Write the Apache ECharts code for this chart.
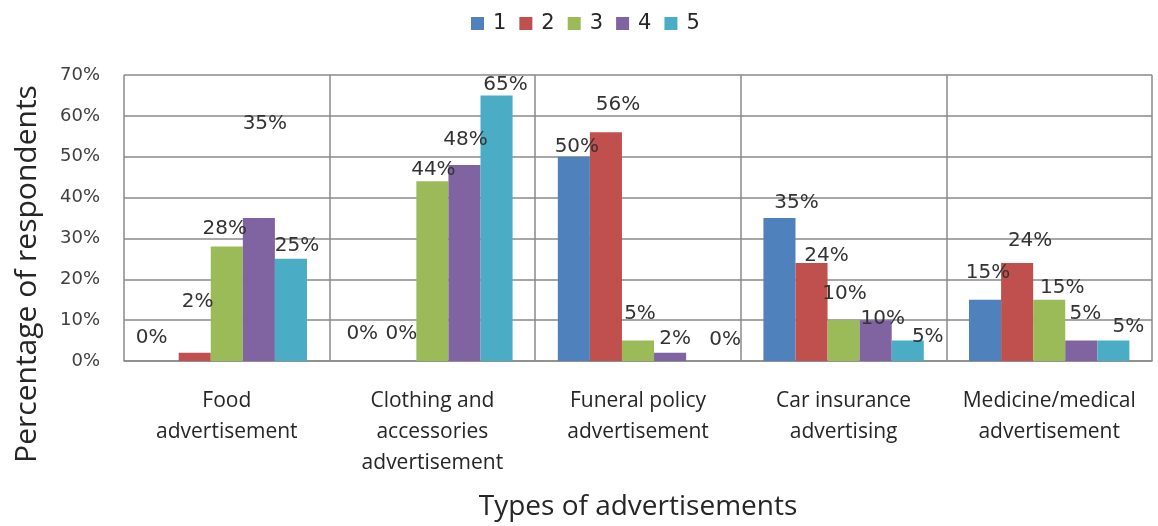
<!DOCTYPE html>
<html>
<head>
<meta charset="utf-8">
<script src="https://cdn.jsdelivr.net/npm/echarts@6/dist/echarts.min.js"></script>
<style>
html,body{margin:0;padding:0;background:#fff;}
#main{width:1158px;height:526px;}
</style>
</head>
<body>
<div id="main"></div>
<script>
const categories = [
  'Food\nadvertisement',
  'Clothing and\naccessories\nadvertisement',
  'Funeral policy\nadvertisement',
  'Car insurance\nadvertising',
  'Medicine/medical\nadvertisement'
];
const seriesNames = ['1', '2', '3', '4', '5'];
const s1 = [0, 0, 50, 35, 15];
const s2 = [2, 0, 56, 24, 24];
const s3 = [28, 44, 5, 10, 15];
const s4 = [35, 48, 2, 10, 5];
const s5 = [25, 65, 0, 5, 5];
const yTicks = { min: 0, max: 70, interval: 10 };
const xTitle = 'Types of advertisements';
const yTitle = 'Percentage of respondents';

// label nudges (styling only), [dx, dy] per series per category
const labelNudges = [
  [[-11,-8],[-6,-12],[3,5],[17,0],[3,-12]],
  [[3,-36],[1,-12],[12,-12],[15,8],[13,-7]],
  [[-2,-3],[1,4],[2,-12],[1,-11],[13,3]],
  [[6,-79],[1,-10],[5,1],[7,14],[4,-12]],
  [[6,2],[9,4],[23,-6],[20,11],[15,1]]
];
const colors = ['#4F81BD', '#C0504D', '#9BBB59', '#8064A2', '#4BACC6'];
const allSeries = [s1, s2, s3, s4, s5];

const chart = echarts.init(document.getElementById('main'), null, { renderer: 'canvas' });
const gridColor = '#8a8a8a';
const option = {
  animation: false,
  color: colors,
  legend: {
    left: 466, top: 8,
    itemWidth: 13, itemHeight: 13, itemGap: 13,
    icon: 'rect',
    textStyle: { fontFamily: 'DejaVu Sans', fontSize: 21, color: '#262626', padding: [0,0,0,4] },
    data: seriesNames
  },
  grid: { left: 124, right: 6, top: 75, bottom: 159, containLabel: false },
  xAxis: {
    type: 'category',
    data: categories,
    axisTick: { show: false },
    axisLine: { show: true, lineStyle: { color: gridColor, width: 1.5 } },
    splitLine: { show: true, lineStyle: { color: gridColor, width: 1.5 } },
    axisLabel: {
      interval: 0, margin: 25,
      fontFamily: 'Open Sans', fontSize: 21, lineHeight: 31, color: '#262626'
    },
    name: xTitle,
    nameLocation: 'middle',
    nameGap: 132,
    nameTextStyle: { fontFamily: 'Open Sans', fontSize: 28, color: '#262626' }
  },
  yAxis: {
    type: 'value',
    min: yTicks.min, max: yTicks.max, interval: yTicks.interval,
    axisLine: { show: false },
    axisTick: { show: false },
    splitLine: { show: true, lineStyle: { color: gridColor, width: 1.5 } },
    axisLabel: {
      formatter: '{value}%', margin: 24,
      fontFamily: 'DejaVu Sans', fontSize: 18, color: '#404040'
    },
    name: yTitle,
    nameLocation: 'middle',
    nameGap: 82,
    nameRotate: 90,
    nameTextStyle: { fontFamily: 'Open Sans', fontSize: 30, color: '#262626', padding: [0, 112, 0, 0] }
  },
  series: allSeries.map((vals, i) => ({
    name: seriesNames[i],
    type: 'bar',
    barGap: '0%',
    barCategoryGap: '22%',
    itemStyle: { color: colors[i] },
    label: {
      show: true, position: 'top', distance: 5,
      formatter: '{c}%',
      fontFamily: 'DejaVu Sans', fontSize: 20, color: '#333333'
    },
    data: vals.map((v, j) => ({ value: v, label: { offset: labelNudges[i][j] } }))
  }))
};
chart.setOption(option);
</script>
</body>
</html>
